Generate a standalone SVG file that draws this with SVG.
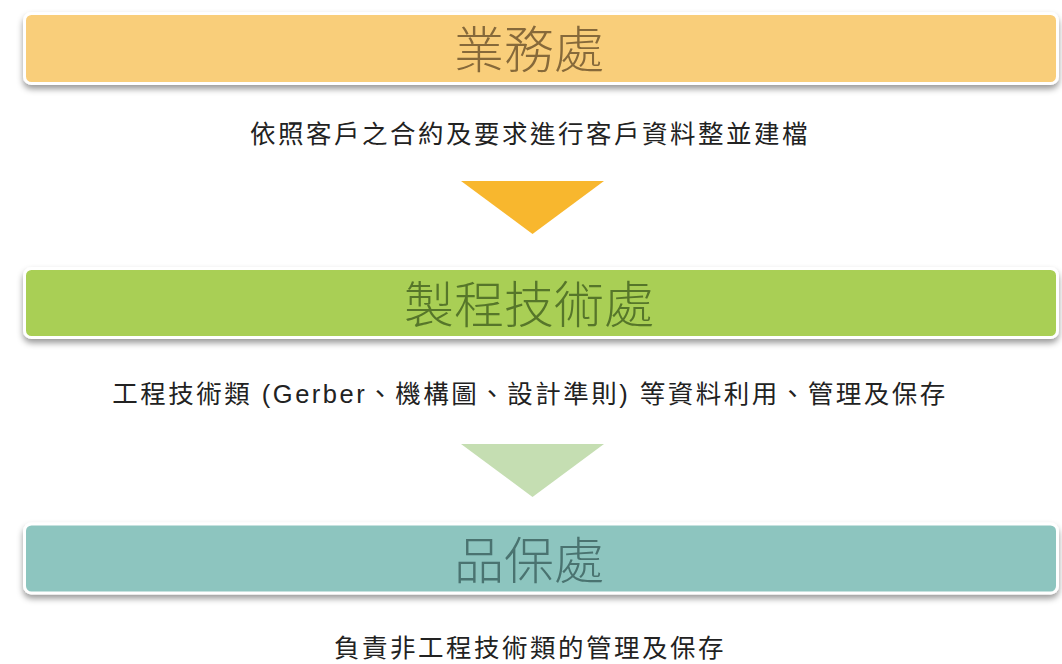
<svg xmlns="http://www.w3.org/2000/svg" width="1062" height="664" viewBox="0 0 1062 664">
<defs>
<filter id="sh" x="-5%" y="-30%" width="110%" height="170%">
<feDropShadow dx="0" dy="4" stdDeviation="3" flood-color="#000" flood-opacity="0.4"/>
</filter>
<style>
.box{stroke:#fff;stroke-width:3;filter:url(#sh)}
.title{font-family:"Noto Sans CJK TC","Noto Sans CJK SC",sans-serif;font-size:50px;text-anchor:middle;font-weight:300}
.sub{font-family:"Liberation Sans","Noto Sans CJK TC",sans-serif;font-size:25.5px;fill:#222;text-anchor:middle;letter-spacing:2.5px}
</style>
</defs>
<rect width="1062" height="664" fill="#fff"/>
<g id="node-sales">
<rect class="box" x="24.5" y="13.5" width="1033" height="70" rx="7" fill="#f9ce7a"/>
<text class="title" x="529" y="68" fill="#86693a">業務處</text>
</g>
<g id="label-sales">
<text class="sub" x="530" y="143">依照客戶之合約及要求進行客戶資料整並建檔</text>
</g>
<g id="node-eng">
<rect class="box" x="24.5" y="268.5" width="1033" height="69" rx="7" fill="#a9cf54"/>
<text class="title" x="529" y="323" fill="#56762a">製程技術處</text>
</g>
<g id="label-eng">
<text class="sub" x="530" y="403">工程技術類 (Gerber、機構圖、設計準則) 等資料利用、管理及保存</text>
</g>
<g id="node-qa">
<rect class="box" x="24.5" y="524" width="1033" height="69" rx="7" fill="#8dc5bf"/>
<text class="title" x="529" y="579" fill="#4a7370">品保處</text>
</g>
<g id="label-qa">
<text class="sub" x="530" y="657">負責非工程技術類的管理及保存</text>
</g>
<g id="connectors">
<polygon points="461,181 604,181 532.5,234" fill="#f8b72e"/>
<polygon points="461,444 604,444 532.5,497" fill="#c5deb2"/>
</g>
</svg>
